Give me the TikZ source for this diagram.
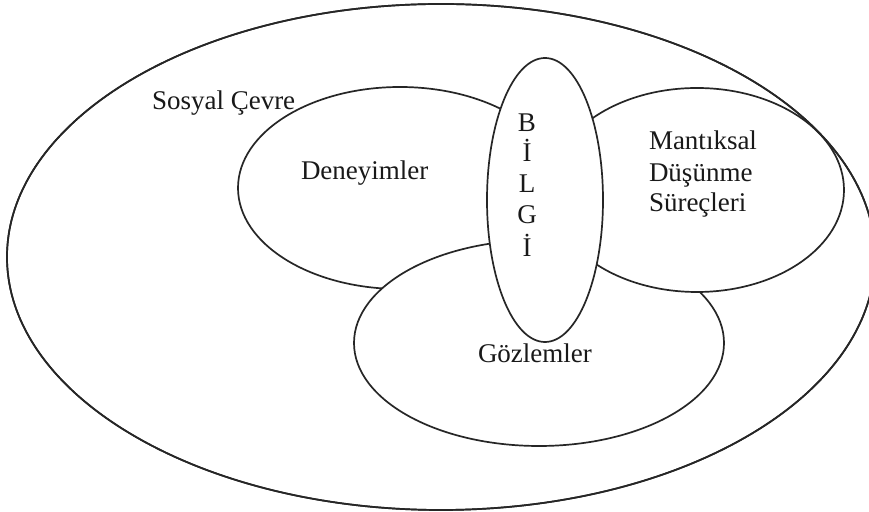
\documentclass[tikz,border=0pt]{standalone}
\usepackage{fontspec}
\setmainfont{Liberation Serif}
\usetikzlibrary{shapes.geometric}
\begin{document}
\begin{tikzpicture}[x=0.5pt,y=-0.5pt,
  region/.style={draw=black!85,line width=0.85pt,fill=white,ellipse,inner sep=0pt,outer sep=0pt},
  lbl/.style={inner sep=0pt,outer sep=0pt,font=\fontsize{13.5}{15.5}\selectfont,text=black!90}]
\useasboundingbox (0,0) rectangle (869,512);
\begin{scope}
\clip (0,0) rectangle (869,512);
\node[region,minimum width=434pt,minimum height=253pt] (sosyal) at (441,257) {};
\node[region,minimum width=162pt,minimum height=101pt] (deney) at (400,188) {};
\node[region,minimum width=185pt,minimum height=103pt] (gozlem) at (539,343) {};
\node[region,minimum width=147pt,minimum height=102pt] (mantik) at (697,190) {};
\node[region,minimum width=58pt,minimum height=142pt] (bilgi) at (545,200) {};
\draw[draw=black!85,line width=0.85pt] (sosyal.center) ellipse [x radius=217pt, y radius=126.5pt];
\end{scope}
\node[lbl,anchor=base west] (tsosyal) at (152,110) {Sosyal Çevre};
\node[lbl,anchor=base west] (tdeney) at (301,180) {Deneyimler};
\node[lbl,anchor=base west] (tm1) at (649,150) {Mantıksal};
\node[lbl,anchor=base west] (tm2) at (649,181.5) {Düşünme};
\node[lbl,anchor=base west] (tm3) at (649,212) {Süreçleri};
\node[lbl,anchor=base west] (tgozlem) at (478,363) {Gözlemler};
\node[lbl,anchor=base] (b1) at (527,131.7) {B};
\node[lbl,anchor=base] (b2) at (527,162) {İ};
\node[lbl,anchor=base] (b3) at (527,193) {L};
\node[lbl,anchor=base] (b4) at (527,224) {G};
\node[lbl,anchor=base] (b5) at (527,256.5) {İ};
\end{tikzpicture}
\end{document}
